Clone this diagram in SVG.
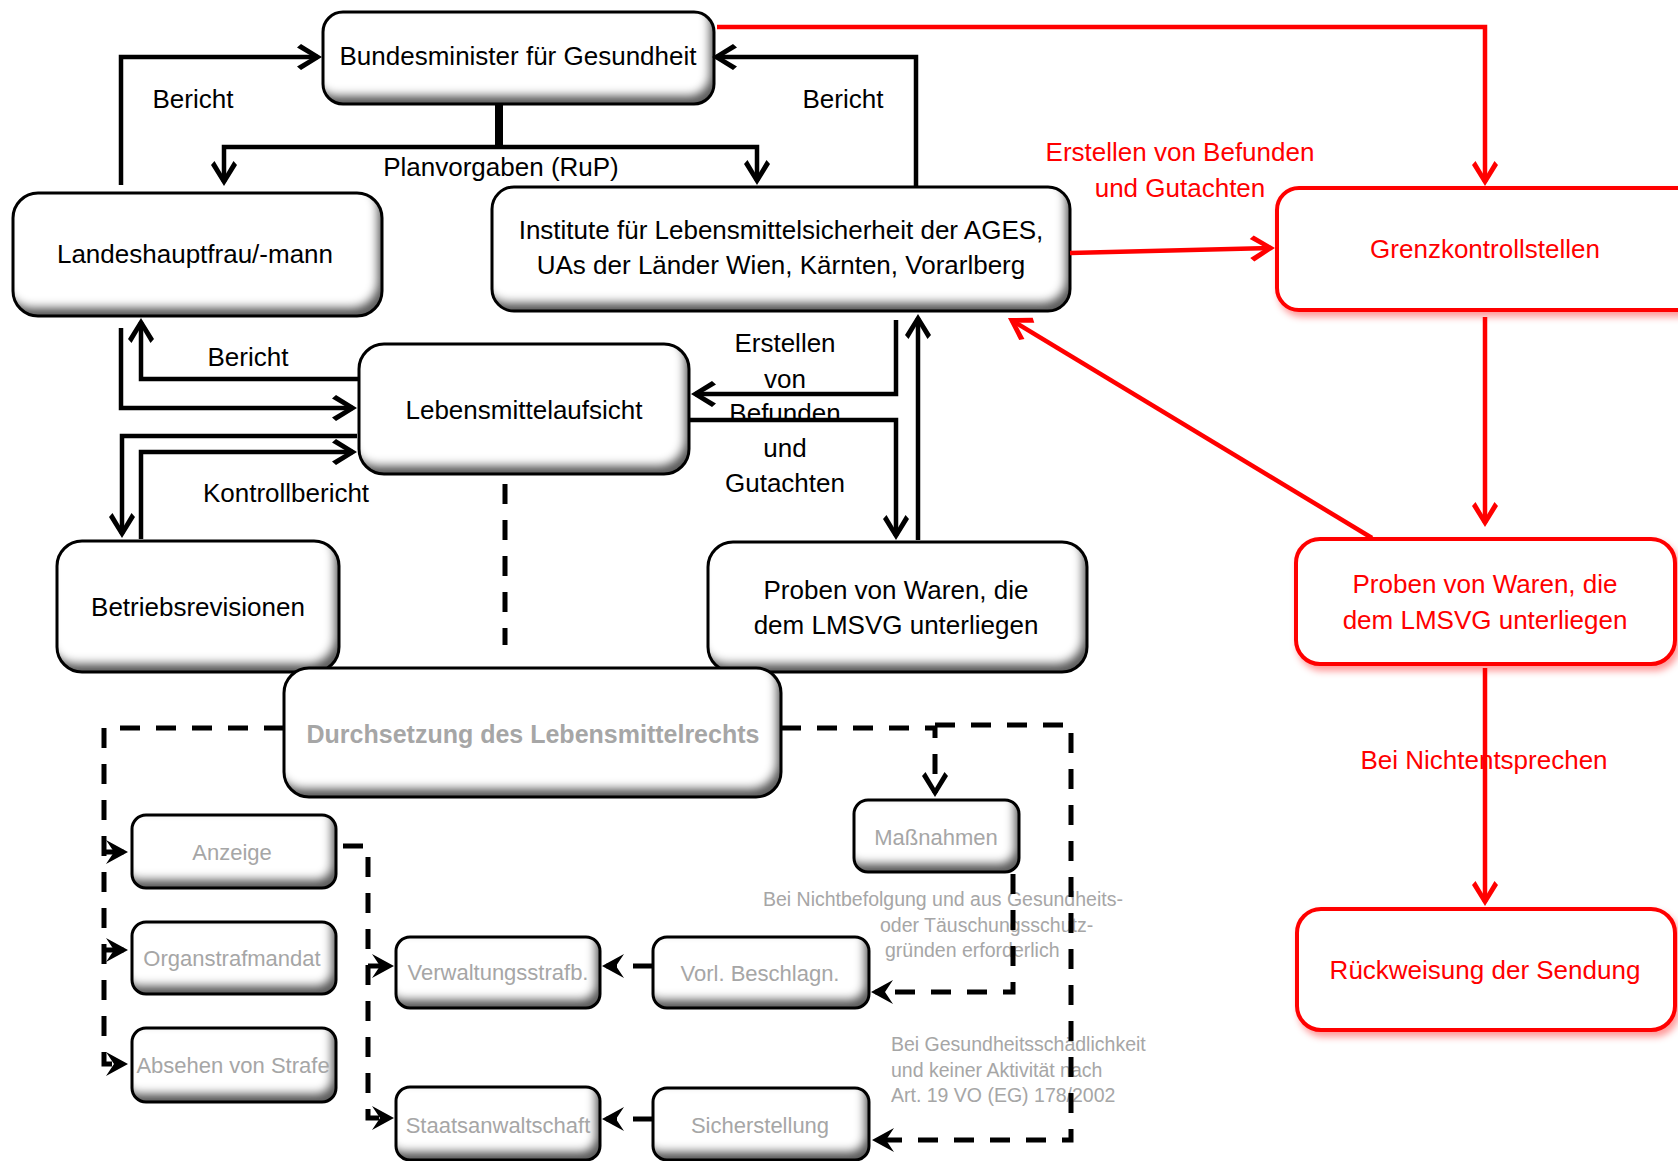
<svg xmlns="http://www.w3.org/2000/svg" width="1678" height="1161" viewBox="0 0 1678 1161">
<defs>
<style>
text{font-family:"Liberation Sans",Arial,sans-serif}
.t{font-size:26px;fill:#000;text-anchor:middle}
.tl{font-size:26px;fill:#000;text-anchor:middle}
.tr{font-size:26px;fill:#ff0000;text-anchor:middle}
.tg{font-size:22px;fill:#a6a6a6;text-anchor:middle}
.tb{font-size:25px;font-weight:bold;fill:#a6a6a6;text-anchor:middle}
.tn{font-size:19.5px;fill:#a6a6a6}
.bf{fill:#fff}
.bs{fill:none;stroke:#000;stroke-width:3}
.rb{fill:#fff;stroke:#ff0000;stroke-width:4}
.c{fill:none;stroke:#000;stroke-width:4.5}
.cw{fill:none;stroke:#000;stroke-width:8}
.cr{fill:none;stroke:#ff0000;stroke-width:4.5}
.d{fill:none;stroke:#000;stroke-width:5;stroke-dasharray:20 16}
.ma{marker-end:url(#ah)}
.mr{marker-end:url(#ar)}
.md{marker-end:url(#ad)}
</style>
<filter id="bev" x="-5%" y="-5%" width="110%" height="110%">
<feOffset in="SourceAlpha" dx="-6" dy="-10" result="o"/>
<feGaussianBlur in="o" stdDeviation="4" result="b"/>
<feComposite in="SourceAlpha" in2="b" operator="out" result="inv"/>
<feFlood flood-color="#5e5e5e" result="f"/>
<feComposite in="f" in2="inv" operator="in" result="sh"/>
<feMerge><feMergeNode in="SourceGraphic"/><feMergeNode in="sh"/></feMerge>
</filter>
<filter id="rsh" x="-5%" y="-10%" width="115%" height="130%">
<feDropShadow dx="3" dy="5" stdDeviation="3.5" flood-color="#ff0000" flood-opacity="0.4"/>
</filter>
<marker id="ah" viewBox="-30 -16 36 32" refX="-4" refY="0" markerWidth="36" markerHeight="32" markerUnits="userSpaceOnUse" orient="auto">
<path d="M0,0 L-21,-13 L-25,-9.5 L-9,0 L-25,9.5 L-21,13 Z" fill="#000"/>
</marker>
<marker id="ar" viewBox="-30 -16 36 32" refX="-4" refY="0" markerWidth="36" markerHeight="32" markerUnits="userSpaceOnUse" orient="auto">
<path d="M0,0 L-21,-13 L-25,-9.5 L-9,0 L-25,9.5 L-21,13 Z" fill="#ff0000"/>
</marker>
<marker id="ad" viewBox="-26 -14 30 28" refX="-4.5" refY="0" markerWidth="30" markerHeight="28" markerUnits="userSpaceOnUse" orient="auto">
<path d="M0,0 L-22,-12 L-14,0 L-22,12 Z" fill="#000"/>
</marker>
</defs>
<rect x="0" y="0" width="1678" height="1161" fill="#fff"/>

<g id="nodes">
<g id="n-bundesminister">
<rect class="bf" x="323" y="12" width="391" height="92" rx="20" filter="url(#bev)"/>
<rect class="bs" x="323" y="12" width="391" height="92" rx="20"/>
<text class="t" x="518" y="65">Bundesminister für Gesundheit</text>
</g>
<g id="n-landeshauptfrau">
<rect class="bf" x="13" y="193" width="369" height="123" rx="25" filter="url(#bev)"/>
<rect class="bs" x="13" y="193" width="369" height="123" rx="25"/>
<text class="t" x="195" y="263">Landeshauptfrau/-mann</text>
</g>
<g id="n-institute">
<rect class="bf" x="492" y="187" width="578" height="124" rx="22" filter="url(#bev)"/>
<rect class="bs" x="492" y="187" width="578" height="124" rx="22"/>
<text class="t" x="781" y="239">Institute für Lebensmittelsicherheit der AGES,</text>
<text class="t" x="781" y="274">UAs der Länder Wien, Kärnten, Vorarlberg</text>
</g>
<g id="n-lebensmittelaufsicht">
<rect class="bf" x="359" y="344" width="330" height="130" rx="25" filter="url(#bev)"/>
<rect class="bs" x="359" y="344" width="330" height="130" rx="25"/>
<text class="t" x="524" y="419">Lebensmittelaufsicht</text>
</g>
<g id="n-betriebsrevisionen">
<rect class="bf" x="57" y="541" width="282" height="131" rx="25" filter="url(#bev)"/>
<rect class="bs" x="57" y="541" width="282" height="131" rx="25"/>
<text class="t" x="198" y="616">Betriebsrevisionen</text>
</g>
<g id="n-proben">
<rect class="bf" x="708" y="542" width="379" height="130" rx="25" filter="url(#bev)"/>
<rect class="bs" x="708" y="542" width="379" height="130" rx="25"/>
<text class="t" x="896" y="599">Proben von Waren, die</text>
<text class="t" x="896" y="634">dem LMSVG unterliegen</text>
</g>
<g id="n-durchsetzung">
<rect class="bf" x="284" y="668" width="497" height="129" rx="25" filter="url(#bev)"/>
<rect class="bs" x="284" y="668" width="497" height="129" rx="25"/>
<text class="tb" x="533" y="743">Durchsetzung des Lebensmittelrechts</text>
</g>
<g id="n-massnahmen">
<rect class="bf" x="854" y="800" width="165" height="72" rx="14" filter="url(#bev)"/>
<rect class="bs" x="854" y="800" width="165" height="72" rx="14"/>
<text class="tg" x="936" y="845">Maßnahmen</text>
</g>
<g id="n-anzeige">
<rect class="bf" x="132" y="815" width="204" height="73" rx="14" filter="url(#bev)"/>
<rect class="bs" x="132" y="815" width="204" height="73" rx="14"/>
<text class="tg" x="232" y="860">Anzeige</text>
</g>
<g id="n-organstrafmandat">
<rect class="bf" x="132" y="922" width="204" height="72" rx="14" filter="url(#bev)"/>
<rect class="bs" x="132" y="922" width="204" height="72" rx="14"/>
<text class="tg" x="232" y="966">Organstrafmandat</text>
</g>
<g id="n-absehen">
<rect class="bf" x="132" y="1028" width="204" height="74" rx="14" filter="url(#bev)"/>
<rect class="bs" x="132" y="1028" width="204" height="74" rx="14"/>
<text class="tg" x="233" y="1073">Absehen von Strafe</text>
</g>
<g id="n-verwaltungsstrafb">
<rect class="bf" x="396" y="937" width="204" height="71" rx="14" filter="url(#bev)"/>
<rect class="bs" x="396" y="937" width="204" height="71" rx="14"/>
<text class="tg" x="498" y="980">Verwaltungsstrafb.</text>
</g>
<g id="n-vorl-beschlagn">
<rect class="bf" x="653" y="937" width="216" height="71" rx="14" filter="url(#bev)"/>
<rect class="bs" x="653" y="937" width="216" height="71" rx="14"/>
<text class="tg" x="760" y="981">Vorl. Beschlagn.</text>
</g>
<g id="n-staatsanwaltschaft">
<rect class="bf" x="396" y="1087" width="204" height="73" rx="14" filter="url(#bev)"/>
<rect class="bs" x="396" y="1087" width="204" height="73" rx="14"/>
<text class="tg" x="498" y="1133">Staatsanwaltschaft</text>
</g>
<g id="n-sicherstellung">
<rect class="bf" x="653" y="1088" width="216" height="72" rx="14" filter="url(#bev)"/>
<rect class="bs" x="653" y="1088" width="216" height="72" rx="14"/>
<text class="tg" x="760" y="1133">Sicherstellung</text>
</g>
<g id="n-grenzkontrollstellen">
<rect class="rb" x="1277" y="188" width="430" height="122" rx="22" filter="url(#rsh)"/>
<text class="tr" x="1485" y="258">Grenzkontrollstellen</text>
</g>
<g id="n-proben-rot">
<rect class="rb" x="1296" y="539" width="379" height="125" rx="24" filter="url(#rsh)"/>
<text class="tr" x="1485" y="593">Proben von Waren, die</text>
<text class="tr" x="1485" y="629">dem LMSVG unterliegen</text>
</g>
<g id="n-rueckweisung">
<rect class="rb" x="1297" y="909" width="378" height="121" rx="24" filter="url(#rsh)"/>
<text class="tr" x="1485" y="979">Rückweisung der Sendung</text>
</g>
</g>

<g id="labels">
<text class="tl" x="193" y="108">Bericht</text>
<text class="tl" x="843" y="108">Bericht</text>
<text class="tl" x="501" y="176">Planvorgaben (RuP)</text>
<text class="tl" x="248" y="366">Bericht</text>
<text class="tl" x="286" y="502">Kontrollbericht</text>
<text class="tl" x="785" y="352">Erstellen</text>
<text class="tl" x="785" y="388">von</text>
<text class="tl" x="785" y="422">Befunden</text>
<text class="tl" x="785" y="457">und</text>
<text class="tl" x="785" y="492">Gutachten</text>
<text class="tr" x="1180" y="161">Erstellen von Befunden</text>
<text class="tr" x="1180" y="197">und Gutachten</text>
<text class="tr" x="1484" y="769">Bei Nichtentsprechen</text>
<text class="tn" x="763" y="906">Bei Nichtbefolgung und aus Gesundheits-</text>
<text class="tn" x="880" y="932">oder Täuschungsschutz-</text>
<text class="tn" x="885" y="957">gründen erforderlich</text>
<text class="tn" x="891" y="1051">Bei Gesundheitsschädlichkeit</text>
<text class="tn" x="891" y="1077">und keiner Aktivität nach</text>
<text class="tn" x="891" y="1102">Art. 19 VO (EG) 178/2002</text>
</g>

<g id="connectors">
<path class="c ma" d="M121,185 V57 H318"/>
<path class="c ma" d="M916,186 V57 H716"/>
<path class="cw" d="M499,103 V149"/>
<path class="c ma" d="M499,147 H224 V182"/>
<path class="c ma" d="M499,147 H757 V181"/>
<path class="c ma" d="M121,328 V408 H353"/>
<path class="c ma" d="M359,379 H141 V322"/>
<path class="c ma" d="M357,436 H122 V534"/>
<path class="c ma" d="M141,539 V452 H353"/>
<path class="c ma" d="M896,320 V394 H695"/>
<path class="c ma" d="M689,420 H896 V536"/>
<path class="c ma" d="M918,540 V318"/>
<path class="d" d="M505,484 V645"/>
<path class="cr mr" d="M717,27 H1485 V182"/>
<path class="cr mr" d="M1070,253 L1271,248"/>
<path class="cr mr" d="M1485,317 V523"/>
<path class="cr mr" d="M1372,538 L1011.4,320.1"/>
<path class="cr mr" d="M1485,668 V902"/>
<path class="d md" d="M284,728 H104 V1064 H123.5"/>
<path class="d md" d="M104,852 H123.5"/>
<path class="d md" d="M104,950 H123.5"/>
<path class="d md" d="M343,846 H368 V1118 H389.5"/>
<path class="d md" d="M368,966 H389.5"/>
<path class="d ma" d="M781,728 H935 V793"/>
<path class="d md" d="M935,725 H1071 V1140 H876.5"/>
<path class="d md" d="M1013,874 V992 H875.5"/>
<path class="d md" d="M653,966 H606.5"/>
<path class="d md" d="M653,1119 H606.5"/>
</g>
</svg>
